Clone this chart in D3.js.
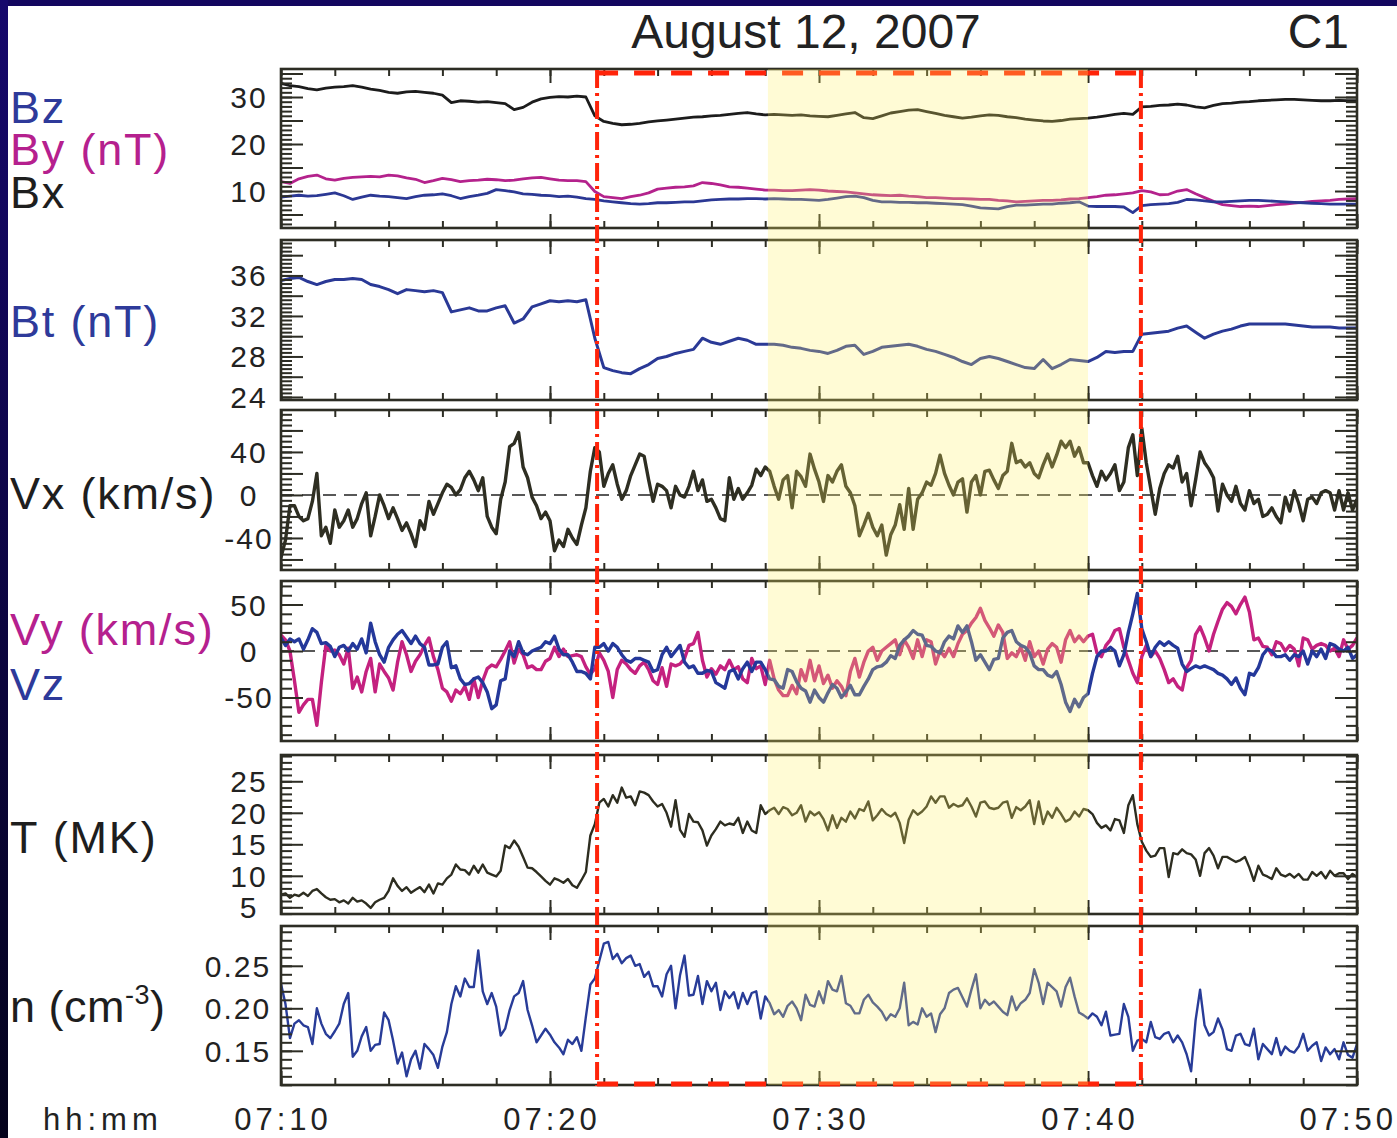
<!DOCTYPE html>
<html><head><meta charset="utf-8">
<script src="https://cdn.jsdelivr.net/npm/d3@7"></script>
<style>body{margin:0;background:#fff}svg{display:block}</style>
</head><body><svg id="c" width="1397" height="1138"></svg>
<script>
// ---------------- DATA ----------------
const START = Date.UTC(2007,7,12,7,10,0);
const END   = Date.UTC(2007,7,12,7,50,0);
const B_STEP_S = 20;   // magnetic field sampling (s)
const P_STEP_S = 10;   // plasma sampling (s)
const boxStart = Date.UTC(2007,7,12,7,21,45);
const boxEnd   = Date.UTC(2007,7,12,7,41,58);
const shadeStart = Date.UTC(2007,7,12,7,28,6);
const shadeEnd   = Date.UTC(2007,7,12,7,40,0);

const bx = [32.9,32.4,32.2,31.8,31.5,31.9,32.1,32.2,32.4,32.1,
31.7,31.4,31.0,30.8,31.1,31.2,31.0,30.8,30.4,28.8,
29.2,29.1,28.9,29.0,28.8,28.6,27.3,27.8,28.9,29.6,
29.9,30.1,30.0,30.2,30.0,26.0,24.8,24.4,24.1,24.2,
24.4,24.7,24.9,25.1,25.3,25.5,25.7,25.8,26.0,26.1,
26.3,26.5,26.7,26.4,26.2,26.3,26.2,26.1,26.2,26.0,
25.9,25.8,26.1,26.4,26.7,25.6,25.4,26.0,26.6,26.9,
27.2,27.3,26.9,26.5,26.1,25.8,25.5,25.7,26.0,26.2,
26.1,25.8,25.6,25.3,25.1,24.9,24.8,25.0,25.3,25.4,
25.5,25.7,26.0,26.3,26.5,26.3,27.9,28.0,28.2,28.3,
28.5,28.3,27.9,27.7,28.2,28.6,28.7,28.9,29.0,29.2,
29.3,29.4,29.5,29.5,29.4,29.3,29.2,29.2,29.3,29.2,
29.2];
const by = [12.0,11.6,12.6,13.1,13.4,12.6,12.3,12.7,12.9,13.0,
13.1,13.0,13.4,13.2,12.8,12.5,11.8,12.2,12.7,12.4,
12.0,12.2,12.3,12.5,12.4,12.2,12.3,12.6,12.8,12.9,
12.6,12.3,12.2,12.2,12.0,9.9,8.8,8.6,8.4,8.8,
9.1,9.6,10.4,10.6,10.8,10.9,11.1,11.8,11.6,11.3,
10.9,10.8,10.6,10.4,10.2,10.2,10.1,10.1,10.2,10.3,
10.2,10.0,9.9,9.8,9.6,9.4,9.2,9.1,9.0,9.1,
8.9,8.8,8.6,8.6,8.5,8.4,8.4,8.3,8.2,8.2,
8.0,7.9,7.7,7.8,7.9,8.0,8.0,8.1,8.3,8.4,
8.6,8.8,9.1,9.2,9.4,9.6,10.1,9.8,9.2,9.3,
10.0,10.3,9.4,8.6,7.8,7.1,6.9,6.7,6.8,6.7,
6.9,7.1,7.2,7.4,7.6,7.8,7.9,8.0,8.2,8.3,
8.4];
const bz = [8.7,8.9,9.1,8.9,9.0,9.3,9.6,9.0,8.2,8.7,
9.1,8.9,8.8,8.6,8.4,8.8,9.1,9.2,9.4,9.0,
8.4,8.8,9.1,9.5,10.3,10.1,9.8,9.4,9.3,9.1,
9.0,8.8,8.9,8.7,8.4,8.2,7.9,7.7,7.5,7.3,
7.2,7.3,7.5,7.5,7.6,7.7,7.7,7.9,8.1,8.2,
8.3,8.3,8.4,8.4,8.3,8.4,8.3,8.2,8.2,8.1,
8.0,8.2,8.5,8.8,8.9,8.6,8.0,7.7,7.7,7.6,
7.6,7.5,7.5,7.4,7.3,7.2,7.1,6.8,6.4,6.3,
6.2,6.7,7.0,7.0,7.1,7.2,7.2,7.4,7.5,7.7,
6.8,6.7,6.7,6.7,6.6,5.4,6.9,7.1,7.2,7.3,
7.6,8.2,8.1,7.9,7.7,7.7,7.8,7.9,8.0,8.0,
7.9,7.8,7.7,7.6,7.5,7.4,7.3,7.2,7.2,7.2,
7.2];
const bt = [35.5,35.7,35.8,35.4,35.1,35.4,35.6,35.6,35.7,35.6,
35.1,34.9,34.6,34.2,34.6,34.5,34.4,34.5,34.3,32.4,
32.6,32.8,32.5,32.5,32.8,33.0,31.3,31.7,32.9,33.2,
33.5,33.4,33.5,33.4,33.6,29.8,26.9,26.6,26.4,26.3,
26.8,27.2,27.8,28.0,28.3,28.5,28.7,29.8,29.4,29.2,
29.5,29.8,29.6,29.2,29.2,29.2,29.1,28.9,28.8,28.6,
28.5,28.3,28.6,29.0,29.1,28.2,28.5,28.9,29.0,29.1,
29.2,29.0,28.7,28.5,28.2,27.9,27.5,27.2,27.8,28.0,
27.8,27.5,27.2,26.9,26.8,27.7,26.8,27.2,27.7,27.6,
27.5,27.9,28.5,28.4,28.5,28.5,30.2,30.3,30.4,30.5,
30.8,31.0,30.4,29.8,30.2,30.5,30.7,31.0,31.2,31.2,
31.2,31.2,31.2,31.1,31.0,30.9,30.9,30.9,30.8,30.8,
30.8];
const vx = [-58,-42,-10,-10,-20,-24,-22,-6,20,-38,
-30,-45,-14,-30,-24,-14,-30,-22,-8,2,
-38,-20,0,-10,-22,-12,-22,-33,-26,-36,
-48,-24,-32,-6,-18,-8,2,10,7,0,
5,16,22,14,4,16,-20,-30,-36,-4,
12,45,48,58,26,16,-2,-10,-22,-16,
-24,-52,-42,-48,-32,-40,-46,-28,-12,22,
44,40,8,20,28,10,-4,4,18,28,
38,36,14,-6,10,8,4,-12,8,0,
-2,8,22,4,14,-6,-4,-12,-22,-24,
16,-4,6,-4,2,9,24,18,26,22,
8,-4,14,18,-12,22,17,8,38,24,
12,-6,18,12,22,28,8,2,-10,-38,
-28,-17,-30,-38,-28,-56,-37,-28,-9,-32,
6,-32,-4,2,12,9,20,37,20,9,
0,12,15,-16,12,18,0,22,23,14,
6,18,22,48,30,32,26,30,20,16,
28,38,26,37,50,44,50,36,44,30,
30,18,8,22,14,20,28,4,12,44,
56,18,62,30,6,-18,6,20,28,25,
36,12,20,-10,14,40,30,24,16,-15,
10,0,-6,8,-8,-14,4,-8,-4,-20,
-18,-12,-20,-26,-2,-15,4,-8,-24,-4,
-2,-8,2,4,2,-14,4,-14,2,-14,
-4];
const vy = [17,12,0,-32,-66,-58,-52,-52,-80,-34,
6,0,1,-4,-14,3,-40,-28,-44,-22,
-8,-44,-14,-22,-29,-42,-12,10,-4,-22,
-11,-4,6,14,-6,-20,-40,-44,-54,-42,
-46,-38,-52,-30,-50,-32,-19,-15,-17,-9,
0,10,-13,2,-4,-18,-16,-20,-20,-11,
-8,4,-6,2,-6,-5,-4,-6,-17,-25,
-19,-2,-10,-22,-50,-20,-10,-14,-20,-24,
-16,-12,-20,-32,-36,-18,-38,-14,-16,-14,
-8,6,8,20,-10,-28,-19,-25,-16,-20,
-10,-20,-17,-30,-34,-8,-19,-16,-36,-10,
-30,-42,-48,-48,-37,-46,-20,-32,-10,-32,
-16,-35,-26,-40,-32,-38,-48,-22,-8,-28,
-12,0,4,-10,0,4,8,12,-4,12,
4,-8,12,-6,12,10,-14,0,-6,3,
-6,8,18,22,30,36,46,33,25,16,
28,20,-8,-2,-6,4,-10,10,-6,0,
-14,2,8,4,-12,12,22,10,16,10,
16,18,-2,-6,6,12,22,24,4,-10,
-24,-34,-6,6,-6,0,-8,-20,-34,-30,
-38,-42,-18,-10,18,26,14,0,18,32,
45,52,48,40,50,58,42,12,14,5,
4,-4,10,8,0,6,2,-16,14,12,
2,6,8,6,0,3,-6,12,2,6,
14];
const vz = [14,6,13,10,13,2,12,24,20,8,
9,5,-6,4,6,0,8,2,13,-2,
30,10,-4,-12,4,12,18,22,15,8,
16,8,4,-15,-15,-14,4,10,-18,-16,
-30,-36,-35,-30,-28,-34,-44,-62,-58,-32,
-30,0,-6,10,-2,-4,0,2,4,10,
8,16,2,-4,-4,-12,-22,-22,-24,-30,
4,4,8,0,8,4,-4,-10,-12,-8,
-8,-10,-12,-22,-20,-4,4,-6,0,6,
-12,-18,-16,-24,-24,-21,-22,-34,-37,-40,
-22,-20,-30,-19,-12,-22,-12,-12,-20,-30,
-31,-38,-40,-20,-22,-33,-40,-43,-55,-42,
-50,-55,-45,-36,-40,-50,-44,-37,-47,-47,
-38,-30,-20,-17,-16,-12,-5,-8,6,12,
16,22,18,17,6,5,0,-2,10,16,
13,27,20,27,10,-10,-4,-12,-20,-9,
-8,14,20,22,10,6,4,-2,-16,-20,
-20,-26,-28,-22,-36,-55,-65,-52,-60,-50,
-46,-24,-6,0,0,4,0,-16,-4,20,
40,62,24,10,-6,4,10,6,10,6,
3,-14,-22,-19,-16,-18,-16,-18,-20,-24,
-26,-30,-36,-29,-40,-47,-24,-26,-18,-4,
2,0,-6,-6,-4,-10,-4,-6,0,-14,
0,-6,2,-8,8,6,2,0,4,-8,
-4];
const temp = [7.0,7.2,6.5,7.0,6.8,7.3,6.8,7.6,7.9,7.2,
6.6,6.2,6.3,5.8,6.1,5.6,6.5,5.9,6.1,5.6,
4.9,5.8,6.2,6.5,7.6,9.6,8.4,7.6,8.2,7.3,
7.8,8.2,7.4,8.6,7.2,8.8,8.6,9.6,10.2,11.8,
11.0,10.9,10.2,11.6,10.5,11.8,10.5,10.2,9.9,10.8,
14.8,14.4,15.6,14.6,13.0,11.3,11.2,10.6,9.9,9.2,
8.6,9.6,9.3,8.9,9.5,8.5,8.1,9.3,10.6,16.4,
18.2,21.6,22.2,21.0,22.8,21.6,24.0,22.4,22.6,21.2,
23.4,23.2,22.8,21.8,21.0,21.4,20.0,17.8,22.0,17.3,
16.2,19.8,18.6,18.5,17.2,14.8,16.4,17.4,18.6,18.0,
18.3,18.1,19.2,16.8,18.6,17.2,16.8,21.2,19.8,20.4,
20.8,19.8,20.9,20.6,19.6,20.0,21.2,18.6,20.2,19.6,
20.1,19.0,17.2,19.6,17.6,19.2,18.6,20.2,19.1,20.6,
20.3,21.8,18.8,19.6,20.6,19.8,19.4,20.0,18.4,15.2,
18.9,20.4,19.7,20.2,21.0,22.6,21.6,22.6,22.6,20.8,
21.4,21.0,21.2,22.3,21.0,19.4,21.6,21.8,20.8,20.6,
20.8,21.6,21.8,19.2,20.9,20.4,21.0,22.0,18.2,21.8,
18.2,20.2,19.2,20.8,19.8,18.6,19.0,20.2,19.4,20.6,
20.4,19.8,18.4,17.6,18.0,17.2,19.0,18.8,16.8,21.2,
22.8,18.2,15.4,14.0,13.0,13.2,14.4,14.4,9.8,13.6,
13.4,14.2,13.6,13.4,12.6,10.0,13.6,14.4,13.2,11.2,
13.0,13.0,12.6,12.2,12.5,13.0,11.3,9.2,11.6,10.2,
9.9,9.5,11.2,10.2,9.9,10.3,9.7,10.3,9.4,9.4,
10.6,10.0,10.6,9.6,10.8,10.0,10.4,10.4,9.5,10.3,
9.8];
const dens = [.229,.205,.165,.182,.186,.180,.178,.158,.200,.182,
.170,.165,.173,.182,.205,.218,.143,.150,.167,.178,
.150,.157,.158,.195,.186,.162,.135,.148,.120,.140,
.150,.129,.158,.152,.145,.130,.155,.172,.205,.226,
.214,.235,.225,.225,.268,.220,.205,.218,.202,.168,
.176,.198,.214,.218,.232,.198,.180,.160,.168,.176,
.169,.160,.154,.146,.163,.158,.166,.150,.190,.228,
.235,.256,.276,.278,.258,.264,.253,.259,.262,.250,
.252,.237,.243,.226,.226,.214,.240,.250,.200,.239,
.262,.215,.216,.238,.205,.232,.220,.230,.198,.220,
.212,.219,.200,.218,.205,.218,.220,.188,.214,.206,
.193,.198,.190,.203,.208,.200,.186,.216,.204,.202,
.220,.206,.232,.222,.220,.238,.206,.203,.194,.194,
.210,.216,.207,.202,.196,.186,.193,.190,.200,.230,
.180,.184,.181,.200,.190,.194,.172,.193,.200,.218,
.222,.224,.213,.202,.222,.240,.200,.210,.204,.208,
.202,.196,.192,.214,.198,.206,.210,.218,.246,.230,
.205,.230,.225,.220,.202,.225,.236,.214,.195,.192,
.188,.194,.190,.180,.196,.168,.169,.170,.205,.190,
.150,.162,.164,.160,.184,.166,.164,.170,.172,.160,
.168,.160,.146,.126,.186,.222,.180,.168,.172,.188,
.175,.152,.150,.168,.170,.158,.156,.176,.140,.158,
.152,.146,.165,.145,.155,.150,.148,.155,.170,.150,
.156,.160,.138,.154,.146,.152,.140,.160,.145,.142,
.158];

const p1Ticks = [10,20,30];
const p2Ticks = [24,28,32,36];
const p3Ticks = [-40,0,40];
const p4Ticks = [-50,0,50];
const p5Ticks = [5,10,15,20,25];
const p6Ticks = [0.15,0.20,0.25];
const timeFormat = "%H:%M";

// ---------------- DRAW ----------------
const W=1397, H=1138, XL=281, XR=1357;
const FONT="'Liberation Sans', Arial, Helvetica, sans-serif";
const svg=d3.select("#c");
const x=d3.scaleUtc().domain([START,END]).range([XL,XR]);
const defs=svg.append("defs");
const lg=defs.append("linearGradient").attr("id","lg").attr("x1",0).attr("y1",0).attr("x2",0).attr("y2",1);
lg.append("stop").attr("offset","0").attr("stop-color","#16086c");
lg.append("stop").attr("offset","1").attr("stop-color","#04031c");
svg.append("rect").attr("width",W).attr("height",H).attr("fill","#fff");
svg.append("rect").attr("x",0).attr("y",0).attr("width",W).attr("height",6).attr("fill","#13065f");
svg.append("rect").attr("x",0).attr("y",0).attr("width",8).attr("height",H).attr("fill","url(#lg)");

const mk = (arr, stepS) => arr.map((v,i)=>({t:START+i*stepS*1000, v}));
const hy = f => v => f(v).replace("\u2212","-");

const panels = [
 {top:69, bottom:228, domain:[2.13,35.96], major:5, minor:1, ticks:p1Ticks, fmt:hy(d3.format("d")), lx:249,
  series:[{d:bx,s:B_STEP_S,c:"#1c1c1c",w:2.8},{d:by,s:B_STEP_S,c:"#b4228c",w:2.8},{d:bz,s:B_STEP_S,c:"#2b3894",w:2.8}]},
 {top:240, bottom:400, domain:[23.7,39.5], major:2, minor:0.4, ticks:p2Ticks, fmt:hy(d3.format("d")), lx:249,
  series:[{d:bt,s:B_STEP_S,c:"#2a3996",w:3}]},
 {top:410, bottom:570, domain:[-69.8,79], major:20, minor:5, ticks:p3Ticks, fmt:hy(d3.format("d")), lx:249, zero:true,
  series:[{d:vx,s:P_STEP_S,c:"#2e2e22",w:3.4}]},
 {top:581, bottom:741, domain:[-96.8,75.3], major:50, minor:10, ticks:p4Ticks, fmt:hy(d3.format("d")), lx:249, zero:true,
  series:[{d:vy,s:P_STEP_S,c:"#c4217f",w:3.4},{d:vz,s:P_STEP_S,c:"#24389a",w:3.4}]},
 {top:755, bottom:914, domain:[3.94,29.17], major:5, minor:1, ticks:p5Ticks, fmt:hy(d3.format("d")), lx:249,
  series:[{d:temp,s:P_STEP_S,c:"#2d2d20",w:2.4}]},
 {top:926, bottom:1085, domain:[0.1098,0.2968], major:0.05, minor:0.01, ticks:p6Ticks, fmt:d3.format(".2f"), lx:238,
  series:[{d:dens,s:P_STEP_S,c:"#283c98",w:2.4}]}
];

const rng=(d,st)=>{const a=[];for(let k=Math.ceil(d[0]/st-1e-9);k*st<=d[1]+1e-9;k++)a.push(+(k*st).toFixed(6));return a;};
const minorT=d3.utcMinute.every(2).range(START,END+1);
const majorT=d3.utcMinute.every(10).range(START,END+1);
const FR="#2d2d24";

panels.forEach((p,pi)=>{
  const y=d3.scaleLinear().domain(p.domain).range([p.bottom,p.top]);
  const g=svg.append("g");
  const cid="clip"+pi;
  defs.append("clipPath").attr("id",cid).append("rect").attr("x",XL).attr("y",p.top).attr("width",XR-XL).attr("height",p.bottom-p.top);
  if(p.zero){
    g.append("line").attr("x1",XL).attr("x2",XR).attr("y1",y(0)).attr("y2",y(0))
     .attr("stroke","#222").attr("stroke-width",1.5).attr("stroke-dasharray","13,8");
  }
  const line=d3.line().x(d=>x(d.t)).y(d=>y(d.v));
  p.series.forEach(s=>{
    g.append("path").datum(mk(s.d,s.s)).attr("d",line).attr("fill","none")
     .attr("stroke",s.c).attr("stroke-width",s.w).attr("stroke-linejoin","round")
     .attr("clip-path",`url(#${cid})`);
  });
  const addAxis=(ax,tx,ty)=>{
    const a=g.append("g").attr("transform",`translate(${tx},${ty})`).call(ax);
    a.select(".domain").remove();
    a.selectAll("line").attr("stroke",FR).attr("stroke-width",2);
  };
  const mn=rng(p.domain,p.minor), mj=rng(p.domain,p.major);
  addAxis(d3.axisLeft(y).tickValues(mn).tickSize(-11).tickFormat(""),XL,0);
  addAxis(d3.axisLeft(y).tickValues(mj).tickSize(-22).tickFormat(""),XL,0);
  addAxis(d3.axisRight(y).tickValues(mn).tickSize(-11).tickFormat(""),XR,0);
  addAxis(d3.axisRight(y).tickValues(mj).tickSize(-22).tickFormat(""),XR,0);
  addAxis(d3.axisTop(x).tickValues(minorT).tickSize(-7).tickFormat(""),0,p.top);
  addAxis(d3.axisTop(x).tickValues(majorT).tickSize(-14).tickFormat(""),0,p.top);
  addAxis(d3.axisBottom(x).tickValues(minorT).tickSize(-7).tickFormat(""),0,p.bottom);
  addAxis(d3.axisBottom(x).tickValues(majorT).tickSize(-14).tickFormat(""),0,p.bottom);
  g.append("rect").attr("x",XL).attr("y",p.top).attr("width",XR-XL).attr("height",p.bottom-p.top)
   .attr("fill","none").attr("stroke",FR).attr("stroke-width",2.6);
  p.ticks.forEach(v=>{
    svg.append("text").attr("x",p.lx).attr("y",y(v)+11).attr("text-anchor","middle")
      .attr("font-family",FONT).attr("font-size",30).attr("letter-spacing",2).attr("fill","#222")
      .text(p.fmt(v));
  });
});

// time axis labels
const tf=d3.utcFormat(timeFormat);
majorT.forEach((t,i)=>{
  const last = i===majorT.length-1;
  svg.append("text").attr("x",last?1397:x(t)+2).attr("y",1130).attr("text-anchor",last?"end":"middle")
   .attr("font-family",FONT).attr("font-size",31).attr("letter-spacing",4).attr("fill","#222").text(tf(t));
});
svg.append("text").attr("x",43).attr("y",1130).attr("font-family",FONT).attr("font-size",31)
  .attr("letter-spacing",5).attr("fill","#222").text("hh:mm");

// red box
const RED="#ff240a";
const xb0=x(boxStart), xb1=x(boxEnd);
[xb0,xb1].forEach(xx=>{
  svg.append("line").attr("x1",xx).attr("x2",xx).attr("y1",70).attr("y2",1086)
   .attr("stroke",RED).attr("stroke-width",4).attr("stroke-dasharray","18,5,3,5");
});
[73,1084].forEach(yy=>{
  svg.append("line").attr("x1",xb0).attr("x2",xb1).attr("y1",yy).attr("y2",yy)
   .attr("stroke",RED).attr("stroke-width",5).attr("stroke-dasharray","21,16");
});

// yellow shading overlay
svg.append("rect").attr("x",x(shadeStart)).attr("y",69).attr("width",x(shadeEnd)-x(shadeStart)).attr("height",1085-69)
  .attr("fill","rgb(255,240,100)").attr("opacity",0.27);

// titles
svg.append("text").attr("x",806).attr("y",48).attr("text-anchor","middle").attr("font-family",FONT)
  .attr("font-size",48).attr("fill","#222").text("August 12, 2007");
svg.append("text").attr("x",1349).attr("y",48).attr("text-anchor","end").attr("font-family",FONT)
  .attr("font-size",48).attr("fill","#222").text("C1");

// left labels
const BLUE="#2e3a9a", MAG="#b5208e", BLK="#1e1e1e";
const lab=(txt,yy,col)=>svg.append("text").attr("x",10).attr("y",yy).attr("font-family",FONT)
  .attr("font-size",45).attr("letter-spacing",1.8).attr("fill",col).text(txt);
lab("Bz",123,BLUE);
lab("By (nT)",165,MAG);
lab("Bx",208,BLK);
lab("Bt (nT)",337,BLUE);
lab("Vx (km/s)",509,BLK);
lab("Vy (km/s)",645,MAG);
lab("Vz",700,BLUE);
lab("T (MK)",853,BLK);
const nl=svg.append("text").attr("x",10).attr("y",1022).attr("font-family",FONT)
  .attr("font-size",45).attr("letter-spacing",0.5).attr("fill",BLK);
nl.append("tspan").text("n (cm");
nl.append("tspan").attr("font-size",27).attr("dy",-18).text("-3");
nl.append("tspan").attr("dy",18).text(")");
</script></body></html>
